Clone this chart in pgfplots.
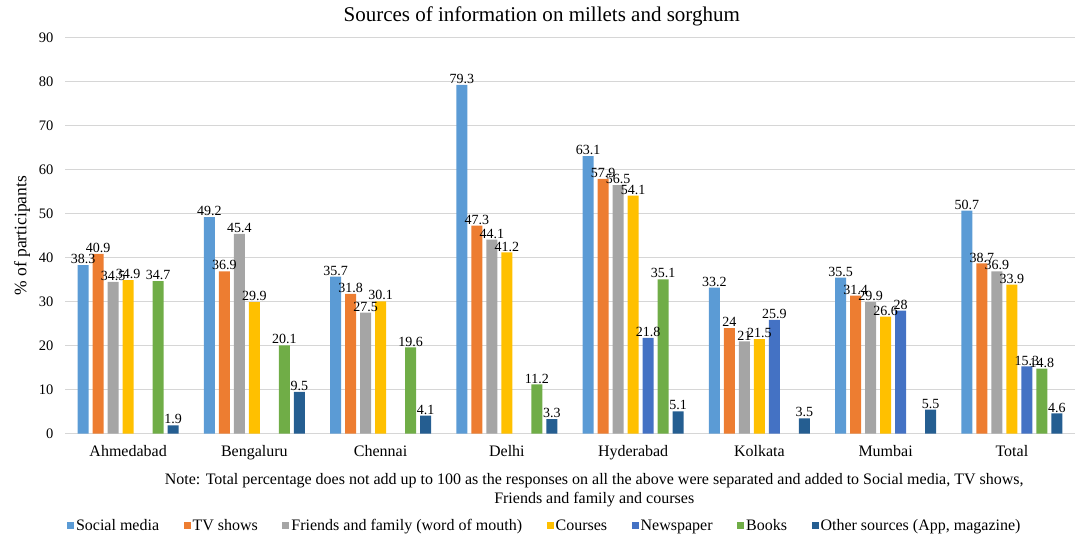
\documentclass[border=0pt]{standalone}
\usepackage{fontspec}
\setmainfont{Liberation Serif}
\usepackage{pgfplots}
\pgfplotsset{compat=1.18}

\definecolor{social}{HTML}{5B9BD5}
\definecolor{tvshows}{HTML}{ED7D31}
\definecolor{friends}{HTML}{A5A5A5}
\definecolor{courses}{HTML}{FFC000}
\definecolor{newspaper}{HTML}{4472C4}
\definecolor{books}{HTML}{70AD47}
\definecolor{other}{HTML}{255E91}

\begin{document}
\begin{tikzpicture}
  \begin{axis}[
    name=ax,
    scale only axis,
    width=1010pt, height=396pt,
    ybar=4pt, bar width=11pt,
    ymin=0, ymax=90, ytick={0,10,...,90},
    xmin=-0.5, xmax=7.5, xtick={0,...,7},
    xticklabels={Ahmedabad, Bengaluru, Chennai, Delhi, Hyderabad, Kolkata, Mumbai, Total},
    ymajorgrids, grid style={draw=black!16, line width=1.2pt},
    axis line style={draw=none},
    major tick length=0pt,
    /pgf/number format/assume math mode=true,
    yticklabel style={font=\fontsize{14.5}{16}\selectfont, xshift=-8pt},
    xticklabel style={font=\fontsize{16}{18}\selectfont, anchor=base, yshift=-23pt},
    ylabel={\% of participants},
    ylabel style={font=\fontsize{17.5}{20}\selectfont, at={(axis description cs:-0.0426,0.5)}, anchor=center},
    title={Sources of information on millets and sorghum},
    title style={font=\fontsize{21}{24}\selectfont, at={(0.472,1)}, yshift=2.5pt},
    nodes near coords,
    every node near coord/.append style={font=\fontsize{14}{16}\selectfont, black, inner sep=1pt},
    legend style={at={(0.475,-0.232)}, anchor=center, draw=none, legend columns=7,
      font=\fontsize{16}{18}\selectfont,
      /tikz/every even column/.append style={column sep=22.5pt}},
    legend image code/.code={\fill[#1] (0pt,-3.5pt) rectangle (7pt,3.5pt);},
    clip=false,
  ]
  \addplot[fill=social, draw=none] coordinates {(0,38.3) (1,49.2) (2,35.7) (3,79.3) (4,63.1) (5,33.2) (6,35.5) (7,50.7)};
  \addplot[fill=tvshows, draw=none] coordinates {(0,40.9) (1,36.9) (2,31.8) (3,47.3) (4,57.9) (5,24) (6,31.4) (7,38.7)};
  \addplot[fill=friends, draw=none] coordinates {(0,34.5) (1,45.4) (2,27.5) (3,44.1) (4,56.5) (5,21) (6,29.9) (7,36.9)};
  \addplot[fill=courses, draw=none] coordinates {(0,34.9) (1,29.9) (2,30.1) (3,41.2) (4,54.1) (5,21.5) (6,26.6) (7,33.9)};
  \addplot[fill=newspaper, draw=none] coordinates {(4,21.8) (5,25.9) (6,28) (7,15.3)};
  \addplot[fill=books, draw=none] coordinates {(0,34.7) (1,20.1) (2,19.6) (3,11.2) (4,35.1) (7,14.8)};
  \addplot[fill=other, draw=none] coordinates {(0,1.9) (1,9.5) (2,4.1) (3,3.3) (4,5.1) (5,3.5) (6,5.5) (7,4.6)};
  \legend{Social media, TV shows, Friends and family (word of mouth), Courses, Newspaper, Books, {Other sources (App, magazine)}}
  \node[align=center, font=\fontsize{16}{19}\selectfont] at (rel axis cs:0.524,-0.1427)
    {Note: Total percentage does not add up to 100 as the responses on all the above were separated and added to Social media, TV shows,\\ Friends and family and courses};
  \end{axis}
  \pgfresetboundingbox
  \path[use as bounding box] ([shift={(-65pt,-114.3pt)}]ax.south west) rectangle ([shift={(9pt,37.7pt)}]ax.north east);
\end{tikzpicture}
\end{document}
